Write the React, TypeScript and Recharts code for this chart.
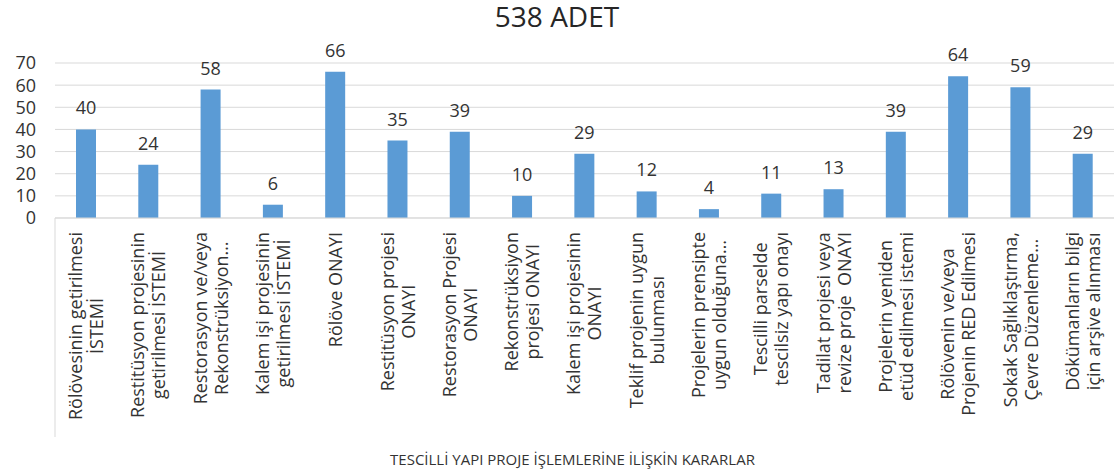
import { useLayoutEffect, useRef, useState } from 'react';
import { BarChart, Bar, XAxis, YAxis, CartesianGrid, LabelList, Label } from 'recharts';

const categories = [
  'Rölövesinin getirilmesi\nİSTEMİ',
  'Restitüsyon projesinin\ngetirilmesi İSTEMİ',
  'Restorasyon ve/veya\nRekonstrüksiyon…',
  'Kalem işi projesinin\ngetirilmesi İSTEMİ',
  'Rölöve ONAYI',
  'Restitüsyon projesi\nONAYI',
  'Restorasyon Projesi\nONAYI',
  'Rekonstrüksiyon\nprojesi ONAYI',
  'Kalem işi projesinin\nONAYI',
  'Teklif projenin uygun\nbulunması',
  'Projelerin prensipte\nuygun olduğuna…',
  'Tescilli parselde\ntescilsiz yapı onayı',
  'Tadilat projesi veya\nrevize proje  ONAYI',
  'Projelerin yeniden\netüd edilmesi istemi',
  'Rölövenin ve/veya\nProjenin RED Edilmesi',
  'Sokak Sağlıklaştırma,\nÇevre Düzenleme…',
  'Dökümanların bilgi\niçin arşive alınması',
];

const counts = [40, 24, 58, 6, 66, 35, 39, 10, 29, 12, 4, 11, 13, 39, 64, 59, 29];

const yTicks = [0, 10, 20, 30, 40, 50, 60, 70];

const data = categories.map((name, i) => ({ name, value: counts[i] }));

const FONT = "'Open Sans', sans-serif";
const TEXT = '#333333';
const AXIS_Y = 218;

// two-line rotated label, lines centred on each other, block ends just under the axis
const CategoryTick = ({ x, payload, index }: any) => {
  const lines = String(payload.value).split('\n');
  const refs = useRef<(SVGTextElement | null)[]>([]);
  const [len, setLen] = useState(0);
  useLayoutEffect(() => {
    const w = Math.max(...refs.current.map((t) => (t ? t.getComputedTextLength() : 0)));
    if (Math.abs(w - len) > 0.5) setLen(w);
  });
  const gap = 14;
  const half = payload.offset || 31;
  return (
    <g>
      {index === 0 && (
        <line x1={x - half} x2={x - half} y1={AXIS_Y} y2={437} stroke="#d9d9d9" />
      )}
      <g transform={`translate(${x},${AXIS_Y}) rotate(-90)`}>
        {lines.map((ln, i) => (
          <text
            key={i}
            ref={(el) => {
              refs.current[i] = el;
            }}
            x={-(gap + len / 2)}
            y={(i - (lines.length - 1) / 2) * 21}
            dy="0.36em"
            textAnchor="middle"
            fontSize={18}
            fontFamily={FONT}
            fill={TEXT}
            style={{ whiteSpace: 'pre' }}
          >
            {ln}
          </text>
        ))}
      </g>
    </g>
  );
};

export default function App() {
  return (
    <div style={{ position: 'absolute', left: 0, top: 0, width: 1114, height: 475, background: '#fff' }}>
      <svg width={1114} height={40} style={{ position: 'absolute', left: 0, top: 0 }}>
        <text x={557} y={27} textAnchor="middle" fontSize={28} fontFamily={FONT} fill="#262626">
          538 ADET
        </text>
      </svg>
      <BarChart
        width={1114}
        height={475}
        data={data}
        margin={{ top: 63, right: 0, left: 0, bottom: 0 }}
        barCategoryGap={0}
      >
        <CartesianGrid vertical={false} stroke="#d9d9d9" />
        <XAxis
          dataKey="name"
          height={257}
          interval={0}
          tickLine={false}
          axisLine={{ stroke: '#d9d9d9' }}
          tick={<CategoryTick />}
        >
          <Label
            value="TESCİLLİ YAPI PROJE İŞLEMLERİNE İLİŞKİN KARARLAR"
            position="insideBottom"
            offset={10}
            dx={-12}
            fontSize={15}
            fontFamily={FONT}
            fill={TEXT}
          />
        </XAxis>
        <YAxis
          width={55}
          domain={[0, 70]}
          ticks={yTicks}
          interval={0}
          tickLine={false}
          axisLine={false}
          tickMargin={13}
          tick={{ fontSize: 18, fontFamily: FONT, fill: TEXT }}
        />
        <Bar dataKey="value" fill="#5b9bd5" barSize={20} isAnimationActive={false}>
          <LabelList
            dataKey="value"
            position="top"
            offset={15}
            fontSize={18}
            fontFamily={FONT}
            fill={TEXT}
          />
        </Bar>
      </BarChart>
    </div>
  );
}
